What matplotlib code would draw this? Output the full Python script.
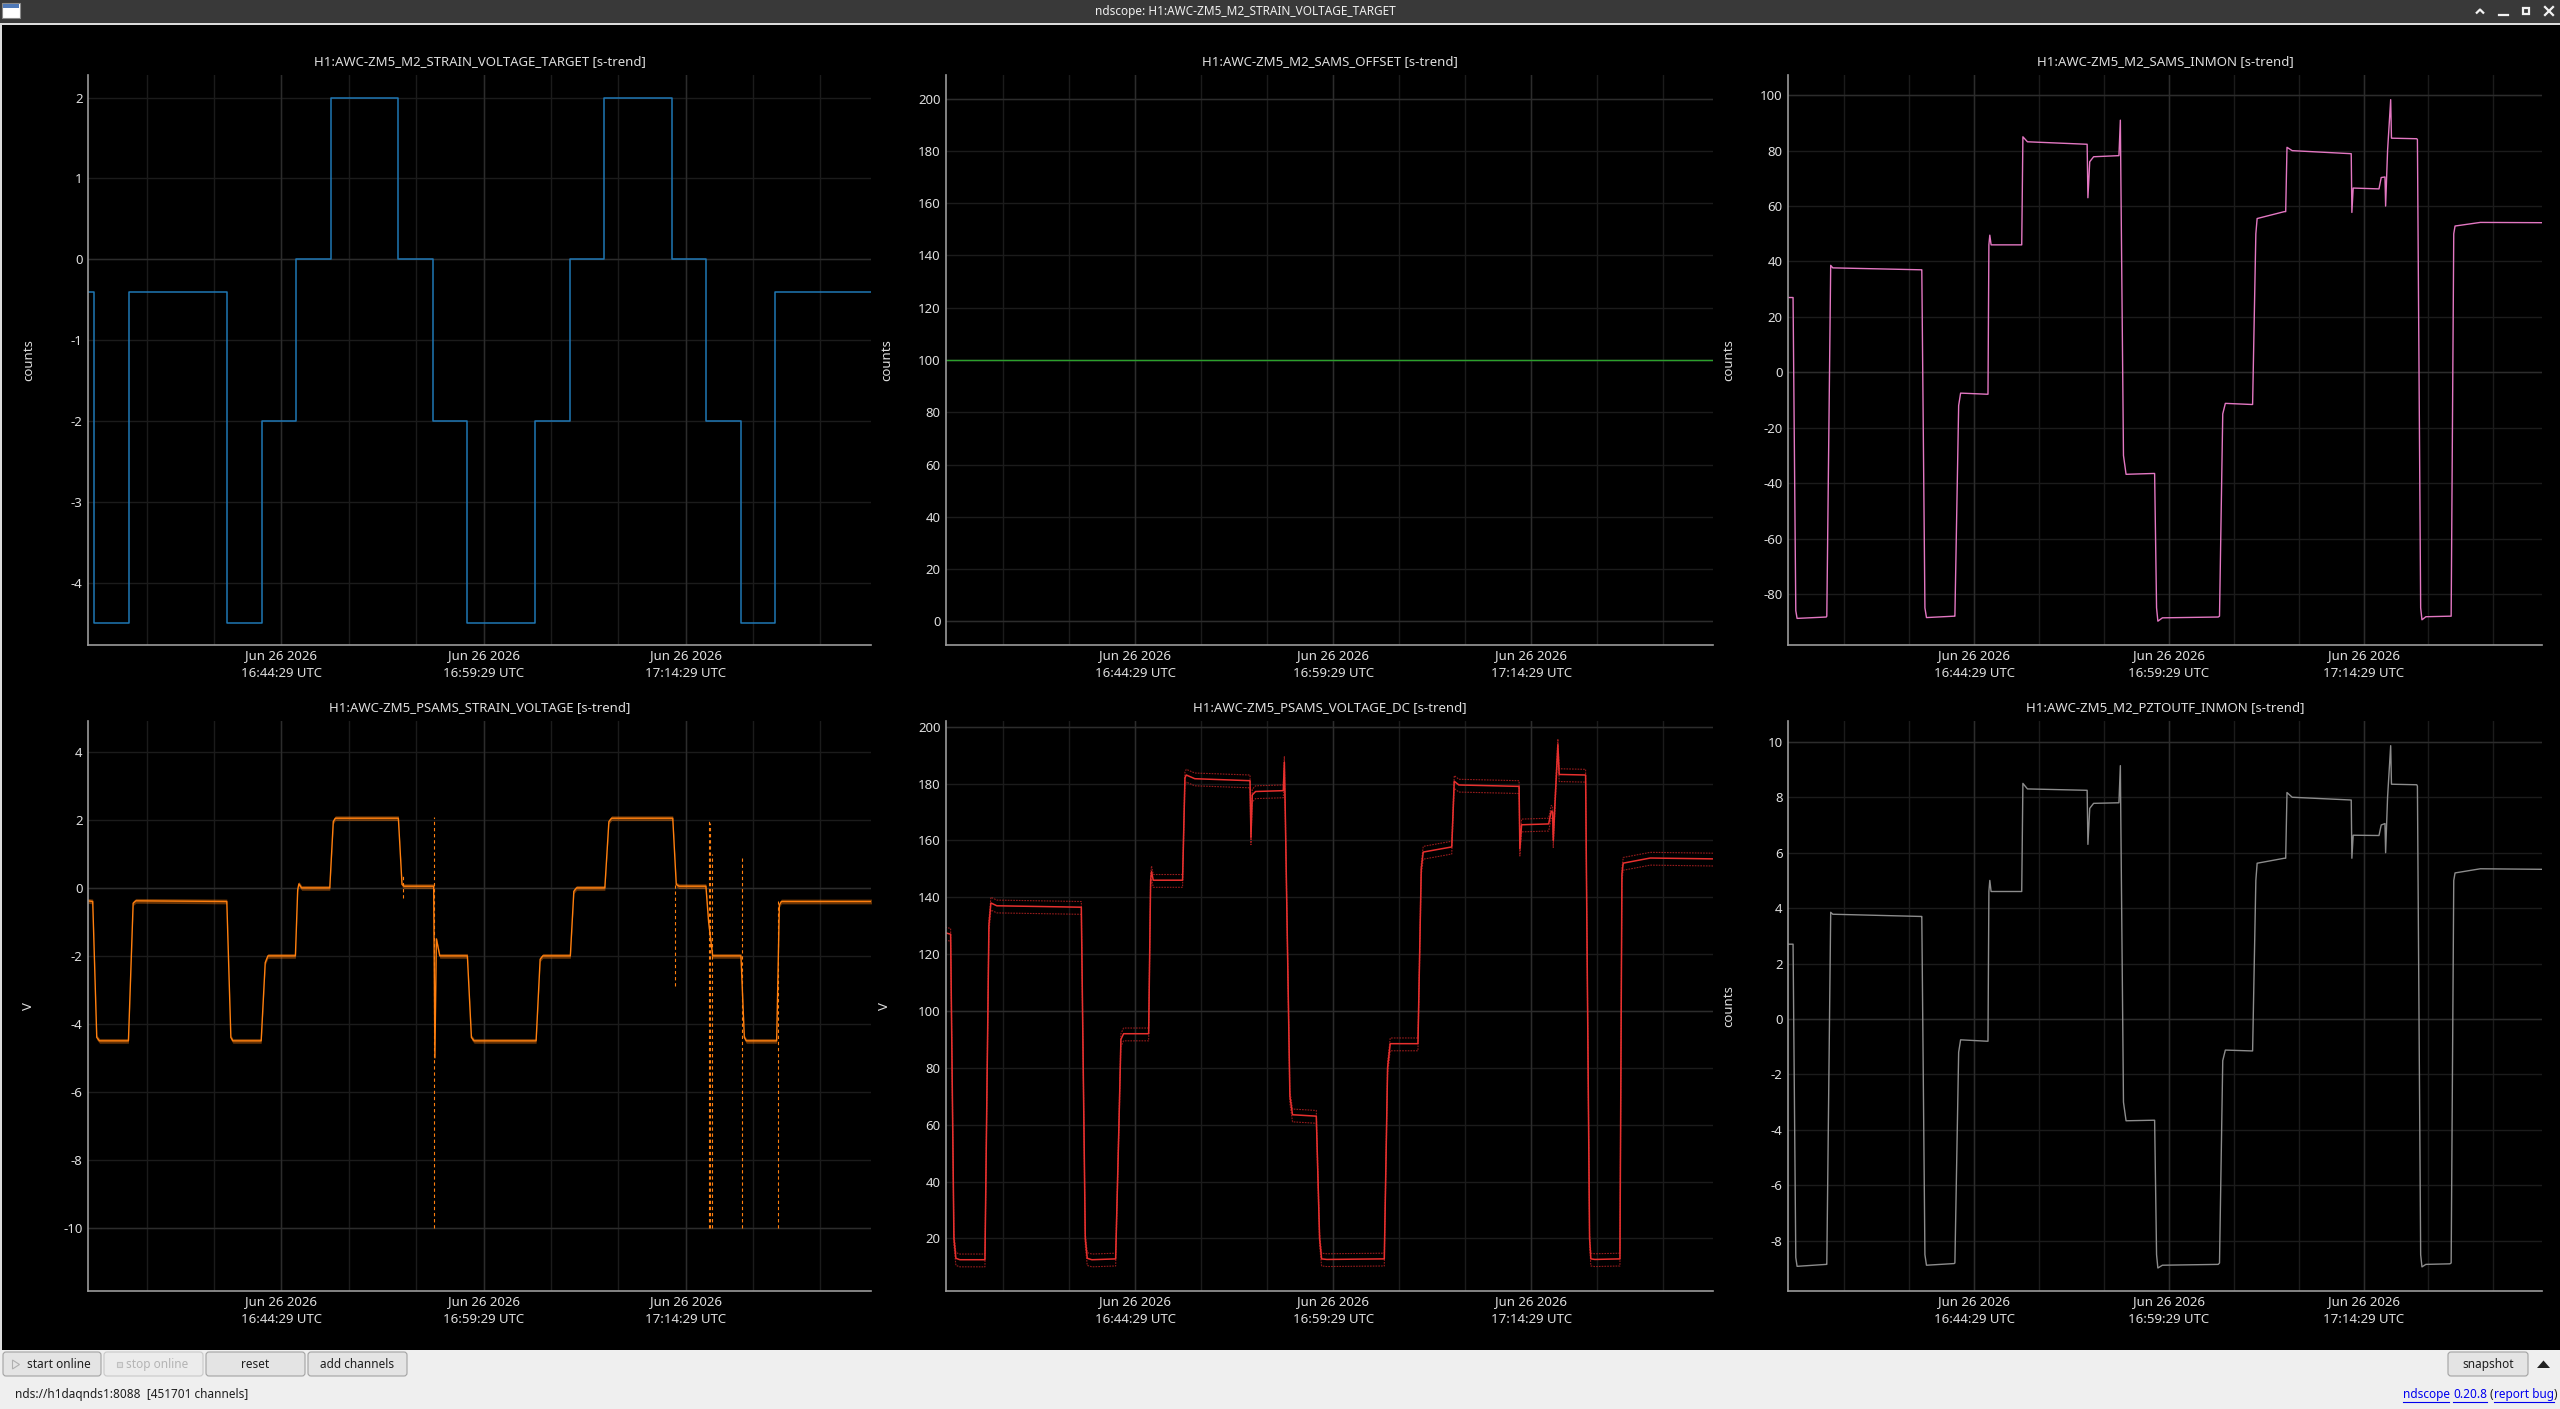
import numpy as np
import matplotlib
matplotlib.use("Agg")
import matplotlib.pyplot as plt
from matplotlib.patches import Rectangle, FancyBboxPatch, Polygon

plt.rcParams['font.family'] = ['Noto Sans', 'DejaVu Sans']

W, H = 2560, 1409

# time axis in minutes relative to 16:44:29 UTC
X_LO, X_HI = -14.35, 43.75
TICK_POS = [0, 15, 30]
TICK_LABELS = ["Jun 26 2026\n16:44:29 UTC", "Jun 26 2026\n16:59:29 UTC", "Jun 26 2026\n17:14:29 UTC"]
MINOR_POS = [-10, -5, 5, 10, 20, 25, 35, 40]

# H1:AWC-ZM5_M2_STRAIN_VOLTAGE_TARGET (step values)
target_t = [-14.4, -13.87, -11.32, -4.0, -1.45, 1.11, 3.66, 8.68, 11.28, 13.79,
            18.85, 21.40, 23.96, 29.02, 31.53, 34.13, 36.64, 43.8]
target_v = [-0.4, -4.5, -0.4, -4.5, -2, 0, 2, 0, -2, -4.5,
            -2, 0, 2, 0, -2, -4.5, -0.4, -0.4]

# H1:AWC-ZM5_M2_SAMS_OFFSET
offset_t = [-14.4, 43.8]
offset_v = [100, 100]

# H1:AWC-ZM5_M2_SAMS_INMON
inmon_t = [-14.4, -13.96, -13.75, -13.65, -11.4,
           -11.36, -11.06, -10.9, -4.1,
           -4.04, -3.8, -3.68, -1.55,
           -1.49, -1.2, -1.05, 0.98,
           1.06, 1.13, 1.2, 1.3, 3.57,
           3.66, 3.75, 4.1, 8.7,
           8.76, 8.9, 9.2, 11.15, 11.26, 11.3, 11.5, 11.7, 13.8,
           13.9, 14.05, 14.15, 14.5, 18.8,
           18.9, 19.15, 19.35, 21.35,
           21.45, 21.7, 21.8, 23.9,
           24.0, 24.1, 24.5, 29.05,
           29.1, 29.2, 31.19, 31.36, 31.65, 31.7, 31.85, 32.09, 32.15, 34.1,
           34.15, 34.4, 34.5, 34.8, 36.65,
           36.75, 36.95, 37.05, 39.0, 43.8]
inmon_v = [27, 27, -86, -88.8, -88.3,
           -88, 38.6, 37.7, 37.0,
           37, -85, -88.5, -88,
           -88, -12, -7.5, -7.9,
           -7.9, 46, 49.5, 46, 46,
           46, 85, 83.2, 82.3,
           63, 76, 77.8, 78.2, 91, 70, -30, -36.8, -36.5,
           -36.5, -85, -89.8, -88.6, -88.3,
           -88, -15, -11.2, -11.6,
           -11.6, 50, 55.5, 58,
           58, 81.2, 80, 78.9,
           57.7, 66.5, 66.2, 70.3, 70.5, 60, 80, 98.4, 84.5, 84.3,
           84, -85, -89.3, -88.2, -88,
           -88, 50, 52.8, 54.1, 54.0]

# H1:AWC-ZM5_PSAMS_STRAIN_VOLTAGE
strain_t = [-14.4, -14.0, -13.7, -13.5, -11.35,
            -11.0, -10.8, -4.05,
            -3.75, -3.6, -1.5,
            -1.2, -1.0, 1.04,
            1.21, 1.3, 1.5, 3.59,
            3.85, 4.0, 8.68,
            8.95, 9.1, 11.3,
            11.39, 11.5, 11.75, 13.8,
            14.1, 14.3, 18.9,
            19.2, 19.4, 21.44,
            21.7, 21.9, 24.0,
            24.3, 24.5, 29.04,
            29.3, 29.5, 31.5,
            31.7, 32.0, 34.1,
            34.35, 34.5, 36.75,
            36.95, 37.1, 43.8]
strain_v = [-0.38, -0.4, -4.4, -4.5, -4.5,
            -0.45, -0.38, -0.4,
            -4.4, -4.5, -4.5,
            -2.2, -2.0, -2.0,
            -0.05, 0.12, 0.0, 0.0,
            1.95, 2.05, 2.05,
            0.1, 0.05, 0.05,
            -5.0, -1.5, -2.0, -2.0,
            -4.4, -4.5, -4.5,
            -2.1, -2.0, -2.0,
            -0.1, 0.0, 0.0,
            1.95, 2.05, 2.05,
            0.1, 0.05, 0.05,
            -1.0, -2.0, -2.0,
            -4.4, -4.5, -4.5,
            -0.5, -0.4, -0.4]
STRAIN_HALF_BAND = 0.07
# glitches seen in the min/max trend: time, low, high
glitch_t = [9.0, 11.31, 29.2, 31.7, 31.83, 31.96, 34.17, 36.84]
glitch_lo = [-0.3, -10, -2.9, -10, -10, -10, -10, -10]
glitch_hi = [0.35, 2.1, 0.1, 2.0, 1.9, 1.0, 0.95, -0.4]

# H1:AWC-ZM5_PSAMS_VOLTAGE_DC
vdc_t = [-14.4, -14.0, -13.75, -13.6, -13.3, -11.4,
         -11.1, -10.95, -10.5, -4.1,
         -3.8, -3.65, -3.3, -1.5,
         -1.25, -1.1, -0.9, 1.0,
         1.15, 1.22, 1.35, 3.57,
         3.75, 3.85, 4.5, 8.68,
         8.75, 8.85, 9.1, 11.2, 11.28, 11.35, 11.7, 11.9, 13.7,
         13.95, 14.1, 14.5, 18.85,
         19.1, 19.3, 21.4,
         21.65, 21.8, 23.96,
         24.15, 24.5, 29.06,
         29.12, 29.25, 31.3, 31.5, 31.6, 31.65, 31.8, 32.0, 32.1, 34.1,
         34.4, 34.5, 34.8, 36.7,
         36.85, 36.95, 39.0, 43.8]
vdc_v = [127.5, 127, 20, 13, 12.5, 12.5,
         130, 138, 137, 136.5,
         20, 13, 12.5, 12.8,
         60, 90, 92, 92,
         146, 149, 146, 146,
         182, 183, 181.7, 181,
         161, 176, 177.2, 177.5, 187.5, 170, 70, 63.5, 63,
         20, 12.8, 12.6, 12.8,
         80, 88.5, 88.5,
         150, 155.9, 157.7,
         180.8, 179.5, 179,
         157, 165.5, 165.8, 170.3, 170, 160, 175, 193.7, 183.2, 183,
         20, 12.8, 12.6, 12.8,
         148, 152, 153.8, 153.5]
VDC_MAX_OFFSET = 2.0
VDC_MIN_OFFSET = 2.5

# H1:AWC-ZM5_M2_PZTOUTF_INMON
pzt_t = [-14.4, -13.96, -13.75, -13.65, -11.4,
         -11.36, -11.06, -10.9, -4.1,
         -4.04, -3.8, -3.68, -1.55,
         -1.49, -1.2, -1.05, 0.98,
         1.06, 1.13, 1.2, 1.3, 3.57,
         3.66, 3.75, 4.1, 8.7,
         8.76, 8.9, 9.2, 11.15, 11.26, 11.3, 11.5, 11.7, 13.8,
         13.9, 14.05, 14.15, 14.5, 18.8,
         18.9, 19.15, 19.35, 21.35,
         21.45, 21.7, 21.8, 23.9,
         24.0, 24.1, 24.5, 29.05,
         29.1, 29.2, 31.19, 31.36, 31.65, 31.7, 31.85, 32.09, 32.15, 34.1,
         34.15, 34.4, 34.5, 34.8, 36.65,
         36.75, 36.95, 37.05, 39.0, 43.8]
pzt_v = [2.7, 2.7, -8.6, -8.92, -8.85,
         -8.85, 3.85, 3.78, 3.7,
         3.7, -8.5, -8.88, -8.82,
         -8.8, -1.2, -0.75, -0.8,
         -0.8, 4.6, 5.0, 4.6, 4.6,
         4.6, 8.5, 8.3, 8.25,
         6.3, 7.6, 7.78, 7.8, 9.14, 7.0, -3.0, -3.67, -3.65,
         -3.65, -8.5, -8.98, -8.88, -8.85,
         -8.8, -1.5, -1.12, -1.15,
         -1.15, 5.0, 5.62, 5.8,
         5.8, 8.17, 8.0, 7.9,
         5.8, 6.63, 6.62, 7.0, 7.05, 6.0, 8.0, 9.86, 8.47, 8.45,
         8.4, -8.5, -8.94, -8.85, -8.83,
         -8.8, 5.0, 5.27, 5.42, 5.4]

BG = "black"
TXT = "#dedede"
GRID_MINOR = "#1b1b1b"
GRID_MAJOR = "#2c2c2c"


def px_rect(x0, y0, x1, y1):
    return [x0 / W, 1 - y1 / H, (x1 - x0) / W, (y1 - y0) / H]


def setup_panel(ax, title, ylim, yticks, major_y):
    ax.set_facecolor(BG)
    ax.set_xlim(X_LO, X_HI)
    ax.set_ylim(*ylim)
    ax.set_xticks(TICK_POS)
    ax.set_xticklabels(TICK_LABELS, linespacing=1.5)
    ax.set_xticks(MINOR_POS, minor=True)
    ax.set_yticks(yticks)
    ax.set_yticklabels([f"{v:g}" for v in yticks])
    ax.set_axisbelow(True)
    ax.grid(which="both", color=GRID_MINOR, lw=1)
    for v in major_y:
        ax.axhline(v, color=GRID_MAJOR, lw=1, zorder=0.6)
    for v in TICK_POS:
        ax.axvline(v, color=GRID_MAJOR, lw=1, zorder=0.6)
    for s in ("top", "right"):
        ax.spines[s].set_visible(False)
    for s in ("left", "bottom"):
        ax.spines[s].set_color("#9a9a9a")
        ax.spines[s].set_linewidth(1.2)
    ax.tick_params(which="both", length=0, colors=TXT, labelsize=9.5)
    ax.tick_params(axis="y", pad=4)
    ax.tick_params(axis="x", pad=3)
    ax.set_title(title, color=TXT, fontsize=9.5, pad=7)


fig = plt.figure(figsize=(W / 100, H / 100), dpi=100, facecolor=BG)

cols = [(88, 871), (946, 1713), (1788, 2542)]
rows = [(75, 645), (721, 1291)]

ax1 = fig.add_axes(px_rect(cols[0][0], rows[0][0], cols[0][1], rows[0][1]))
ax2 = fig.add_axes(px_rect(cols[1][0], rows[0][0], cols[1][1], rows[0][1]))
ax3 = fig.add_axes(px_rect(cols[2][0], rows[0][0], cols[2][1], rows[0][1]))
ax4 = fig.add_axes(px_rect(cols[0][0], rows[1][0], cols[0][1], rows[1][1]))
ax5 = fig.add_axes(px_rect(cols[1][0], rows[1][0], cols[1][1], rows[1][1]))
ax6 = fig.add_axes(px_rect(cols[2][0], rows[1][0], cols[2][1], rows[1][1]))

setup_panel(ax1, "H1:AWC-ZM5_M2_STRAIN_VOLTAGE_TARGET [s-trend]", (-4.77, 2.28), list(range(-4, 3)), [0])
ax1.plot(target_t, target_v, color="#1f77b4", lw=1.1, drawstyle="steps-post")

setup_panel(ax2, "H1:AWC-ZM5_M2_SAMS_OFFSET [s-trend]", (-9, 209), list(range(0, 201, 20)), [0, 100, 200])
ax2.plot(offset_t, offset_v, color="#2ca02c", lw=1.0)

setup_panel(ax3, "H1:AWC-ZM5_M2_SAMS_INMON [s-trend]", (-98.4, 107.3), list(range(-80, 101, 20)), [0, 100])
ax3.plot(inmon_t, inmon_v, color="#e377c2", lw=1.0)

setup_panel(ax4, "H1:AWC-ZM5_PSAMS_STRAIN_VOLTAGE [s-trend]", (-11.86, 4.91), list(range(-10, 5, 2)), [0, -10])
sv = np.array(strain_v)
ax4.fill_between(strain_t, sv - STRAIN_HALF_BAND, sv + STRAIN_HALF_BAND, color="#ff7f0e", alpha=0.4, lw=0)
ax4.vlines(glitch_t, glitch_lo, glitch_hi, color="#ff7f0e", lw=0.8, linestyles=(0, (3, 2.5)))
ax4.plot(strain_t, strain_v, color="#ff7f0e", lw=1.0)

setup_panel(ax5, "H1:AWC-ZM5_PSAMS_VOLTAGE_DC [s-trend]", (1.5, 202), list(range(20, 201, 20)), [100, 200])
dv = np.array(vdc_v)
ax5.plot(vdc_t, dv + VDC_MAX_OFFSET, color="#d62728", lw=0.8, alpha=0.7, ls=(0, (1.5, 1)))
ax5.plot(vdc_t, dv - VDC_MIN_OFFSET, color="#d62728", lw=0.8, alpha=0.7, ls=(0, (1.5, 1)))
ax5.plot(vdc_t, vdc_v, color="#e8302e", lw=1.1)

setup_panel(ax6, "H1:AWC-ZM5_M2_PZTOUTF_INMON [s-trend]", (-9.81, 10.75), list(range(-8, 11, 2)), [0, 10])
ax6.plot(pzt_t, pzt_v, color="#8c8c8c", lw=1.0)

# overlay in pixel coordinates for window chrome and labels
ov = fig.add_axes([0, 0, 1, 1], zorder=10)
ov.set_xlim(0, W)
ov.set_ylim(H, 0)
ov.axis("off")
ov.patch.set_alpha(0)

# y-axis labels
for x, y, lab in [(29, 360, "counts"), (887, 360, "counts"), (1729, 360, "counts"),
                  (28, 1006, "V"), (885, 1006, "V"), (1729, 1006, "counts")]:
    ov.text(x, y, lab, rotation=90, ha="center", va="center", color=TXT, fontsize=9.5)

# title bar
ov.add_patch(Rectangle((0, 0), W, 23, color="#393939", lw=0))
ov.add_patch(Rectangle((0, 23), W, 2, color="#dcdcdc", lw=0))
ov.add_patch(Rectangle((0, 25), 2, 1325, color="#dcdcdc", lw=0))
ov.add_patch(Rectangle((2, 3), 18, 15, facecolor="white", edgecolor="#8a8a8a", lw=0.8))
ov.add_patch(Rectangle((3, 4), 16, 4, color="#4f79b8", lw=0))
ov.text(1245, 11.5, "ndscope: H1:AWC-ZM5_M2_STRAIN_VOLTAGE_TARGET", ha="center", va="center",
        color="#f0f0f0", fontsize=8.5, fontweight="bold")
wc = "#f2f2f2"
ov.plot([2476, 2480, 2484], [13.5, 9.5, 13.5], color=wc, lw=1.6, solid_capstyle="butt")
ov.plot([2499, 2508], [14.5, 14.5], color=wc, lw=1.6)
ov.add_patch(Rectangle((2523, 8), 6, 6, facecolor="none", edgecolor=wc, lw=1.6))
ov.plot([2545, 2553], [7, 15], color=wc, lw=1.6)
ov.plot([2545, 2553], [15, 7], color=wc, lw=1.6)

# bottom toolbar
ov.add_patch(Rectangle((0, 1350), W, H - 1350, color="#efefef", lw=0))


def button(x0, x1, label, enabled=True, tx=None):
    fc = "#e4e4e4" if enabled else "#ececec"
    ec = "#a3a3a3" if enabled else "#c9c9c9"
    ov.add_patch(FancyBboxPatch((x0, 1352), x1 - x0, 24, boxstyle="round,pad=0,rounding_size=3",
                                facecolor=fc, edgecolor=ec, lw=0.8))
    ov.text(tx if tx is not None else (x0 + x1) / 2, 1364.5, label,
            ha="left" if tx is not None else "center", va="center",
            color="#1e1e1e" if enabled else "#b4b4b4", fontsize=8.5)


button(3, 101, "start online", tx=27)
ov.add_patch(Polygon([[12.5, 1360], [12.5, 1369], [19.5, 1364.5]], closed=True,
                     facecolor="none", edgecolor="#b0b0b0", lw=0.8))
button(104, 203, "stop online", enabled=False, tx=126)
ov.add_patch(Rectangle((116.5, 1362), 5, 5, facecolor="#dedede", edgecolor="#c0c0c0", lw=0.8))
button(206, 305, "reset")
button(308, 407, "add channels")
button(2448, 2528, "snapshot")
ov.add_patch(Polygon([[2537, 1368], [2550, 1368], [2543.5, 1360.5]], closed=True, color="#222222", lw=0))

ov.text(15, 1394.5, "nds://h1daqnds1:8088  [451701 channels]", ha="left", va="center",
        color="#1e1e1e", fontsize=8.5)

link = "#0000ee"
ov.text(2403, 1394.5, "ndscope", ha="left", va="center", color=link, fontsize=8.5)
ov.text(2453, 1394.5, "0.20.8", ha="left", va="center", color=link, fontsize=8.5)
ov.text(2490, 1394.5, "(", ha="left", va="center", color="#1e1e1e", fontsize=8.5)
ov.text(2494, 1394.5, "report bug", ha="left", va="center", color=link, fontsize=8.5)
ov.text(2554, 1394.5, ")", ha="left", va="center", color="#1e1e1e", fontsize=8.5)
for xa, xb in [(2403, 2449), (2453, 2487), (2494, 2554)]:
    ov.plot([xa, xb], [1402, 1402], color=link, lw=0.8)

fig.savefig("out.png", dpi=100, facecolor=BG)
